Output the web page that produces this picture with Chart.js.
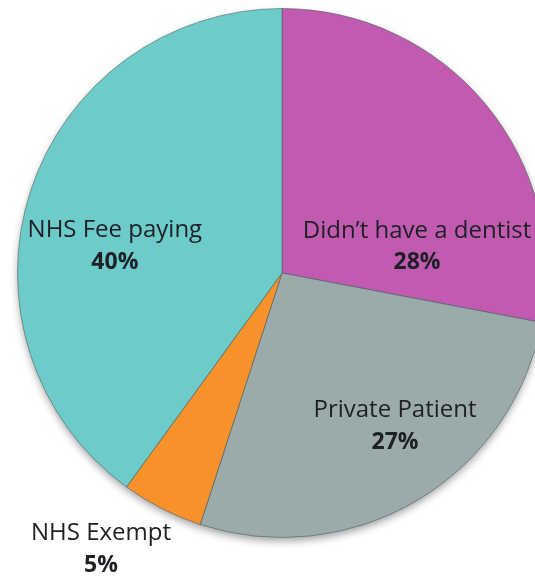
<!DOCTYPE html>
<html>
<head>
<meta charset="utf-8">
<script src="https://cdn.jsdelivr.net/npm/chart.js@4.4.1/dist/chart.umd.min.js"></script>
<style>
  html, body { margin: 0; padding: 0; background: #fff; overflow: hidden; }
  #wrap { width: 535px; height: 580px; overflow: hidden; position: relative; }
  canvas { position: absolute; left: 0; top: 0; }
</style>
</head>
<body>
<div id="wrap"><canvas id="c" width="564" height="580"></canvas></div>
<script>
const categories = ["Didn\u2019t have a dentist", "Private Patient", "NHS Exempt", "NHS Fee paying"];
const values = [28, 27, 5, 40];
const valueLabels = ["28%", "27%", "5%", "40%"];
const colors = ["#C15BB0", "#9BABAB", "#F7912C", "#6DCBCA"];
// label placement: [angle in degrees clockwise from top, distance as fraction of radius]
const labelPlacement = [[79, 0.52], [143.6, 0.72], [213.2, 1.25], [279.1, 0.64]];

const shadowPlugin = {
  id: 'pieShadow',
  beforeDatasetsDraw(chart) {
    const arc = chart.getDatasetMeta(0).data[0];
    if (!arc) return;
    const ctx = chart.ctx;
    ctx.save();
    ctx.shadowColor = 'rgba(0,0,0,0.4)';
    ctx.shadowBlur = 9;
    ctx.shadowOffsetY = 4;
    ctx.fillStyle = '#8a9a9a';
    ctx.beginPath();
    ctx.arc(arc.x, arc.y, arc.outerRadius - 1, 0, Math.PI * 2);
    ctx.fill();
    ctx.restore();
  }
};

const labelPlugin = {
  id: 'sliceLabels',
  afterDatasetsDraw(chart) {
    const meta = chart.getDatasetMeta(0);
    const ctx = chart.ctx;
    ctx.save();
    ctx.textAlign = 'center';
    ctx.textBaseline = 'middle';
    meta.data.forEach((arc, i) => {
      const [deg, f] = labelPlacement[i];
      const a = deg * Math.PI / 180;
      const r = arc.outerRadius * f;
      const x = arc.x + r * Math.sin(a);
      const y = arc.y - r * Math.cos(a);
      ctx.fillStyle = '#1f1f26';
      ctx.font = '24px "Open Sans", Lato, sans-serif';
      ctx.fillText(categories[i], x, y - 16);
      ctx.font = 'bold 23px "Open Sans", Lato, sans-serif';
      ctx.fillText(valueLabels[i], x, y + 16);
    });
    ctx.restore();
  }
};

new Chart(document.getElementById('c'), {
  type: 'pie',
  data: {
    labels: categories,
    datasets: [{
      data: values,
      backgroundColor: colors,
      borderColor: 'rgba(70,90,90,0.55)',
      borderWidth: 1
    }]
  },
  options: {
    responsive: false,
    animation: false,
    devicePixelRatio: 1,
    layout: { padding: { top: 8, bottom: 42, left: 0, right: 0 } },
    plugins: {
      legend: { display: false },
      tooltip: { enabled: false }
    }
  },
  plugins: [shadowPlugin, labelPlugin]
});
</script>
</body>
</html>
